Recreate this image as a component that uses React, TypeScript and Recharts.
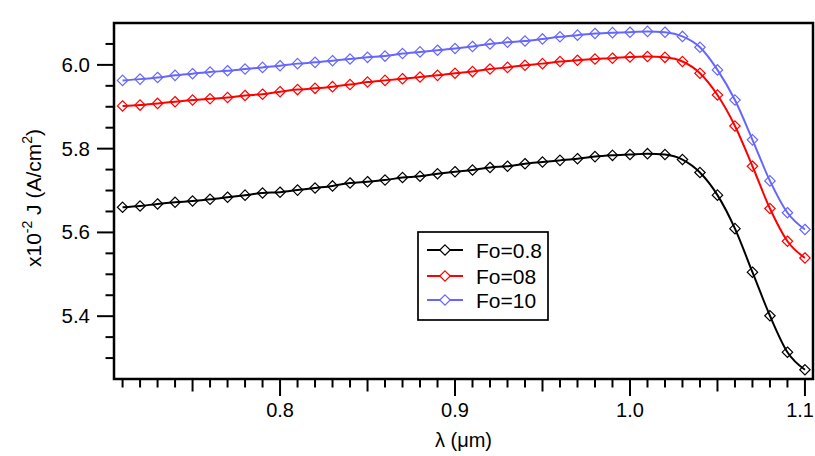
import React from 'react';
import { LineChart, Line, XAxis, YAxis, ReferenceArea, Legend, Label } from 'recharts';

// wavelength (µm)
const lambda = [
  0.71, 0.72, 0.73, 0.74, 0.75, 0.76, 0.77, 0.78, 0.79, 0.8,
  0.81, 0.82, 0.83, 0.84, 0.85, 0.86, 0.87, 0.88, 0.89, 0.9,
  0.91, 0.92, 0.93, 0.94, 0.95, 0.96, 0.97, 0.98, 0.99, 1.0,
  1.01, 1.02, 1.03, 1.04, 1.05, 1.06, 1.07, 1.08, 1.09, 1.1,
];

// J x10^-2 (A/cm^2)
const foA = [
  5.66, 5.663, 5.668, 5.672, 5.675, 5.679, 5.684, 5.689, 5.694, 5.696,
  5.701, 5.706, 5.711, 5.718, 5.721, 5.725, 5.731, 5.734, 5.74, 5.745,
  5.749, 5.755, 5.758, 5.764, 5.768, 5.772, 5.776, 5.781, 5.784, 5.786,
  5.788, 5.786, 5.774, 5.743, 5.689, 5.609, 5.505, 5.401, 5.314, 5.272,
];
const foB = [
  5.902, 5.904, 5.908, 5.912, 5.916, 5.919, 5.922, 5.927, 5.93, 5.936,
  5.941, 5.944, 5.948, 5.953, 5.959, 5.963, 5.967, 5.971, 5.975, 5.98,
  5.984, 5.99, 5.994, 5.999, 6.003, 6.008, 6.011, 6.014, 6.016, 6.019,
  6.02, 6.018, 6.008, 5.98, 5.928, 5.854, 5.758, 5.657, 5.579, 5.539,
];
const foC = [
  5.963, 5.966, 5.97, 5.975, 5.979, 5.983, 5.986, 5.99, 5.994, 5.998,
  6.003, 6.006, 6.01, 6.014, 6.018, 6.021, 6.027, 6.031, 6.035, 6.039,
  6.044, 6.05, 6.054, 6.057, 6.062, 6.067, 6.071, 6.075, 6.077, 6.078,
  6.08, 6.078, 6.068, 6.042, 5.988, 5.916, 5.821, 5.723, 5.647, 5.607,
];

const seriesNames = ['Fo=0.8', 'Fo=08', 'Fo=10'];
const seriesColors = ['#000000', '#ff0000', '#6666ff'];

const xTicks = lambda;
const xMajorTicks = [0.8, 0.9, 1.0, 1.1];
const xMediumTicks = [0.75, 0.85, 0.95, 1.05];
const yTicks = [5.3, 5.35, 5.4, 5.45, 5.5, 5.55, 5.6, 5.65, 5.7, 5.75, 5.8, 5.85, 5.9, 5.95, 6.0, 6.05];
const yMajorTicks = [5.4, 5.6, 5.8, 6.0];

const xDomain = [0.7051, 1.1046];
const yDomain = [5.25, 6.1];

const data = lambda.map((x, i) => ({ x, a: foA[i], b: foB[i], c: foC[i] }));

const FONT = '"Liberation Sans", Arial, Helvetica, sans-serif';

const isIn = (v: number, arr: number[]) => arr.some((t) => Math.abs(t - v) < 1e-6);

const BottomTick = (props: any) => {
  const { x, y, payload } = props;
  const v = payload.value;
  const major = isIn(v, xMajorTicks);
  const med = isIn(v, xMediumTicks);
  const len = major ? 17 : med ? 12.5 : 8.5;
  const last = Math.abs(v - xMajorTicks[xMajorTicks.length - 1]) < 1e-6;
  return (
    <g>
      <line x1={x} x2={x} y1={y} y2={y + len} stroke="#000" strokeWidth={2} />
      {major && (
        <text
          x={last ? Math.min(x + 13, 814) : x}
          y={y + 38}
          textAnchor={last ? 'end' : 'middle'}
          fontSize={20}
          fontFamily={FONT}
          fill="#000"
        >
          {v.toFixed(1)}
        </text>
      )}
    </g>
  );
};

const TopTick = (props: any) => {
  const { x, y, payload } = props;
  const v = payload.value;
  const major = isIn(v, xMajorTicks);
  const med = isIn(v, xMediumTicks);
  const len = major ? 15 : med ? 12 : 10;
  return <line x1={x} x2={x} y1={y} y2={y - len} stroke="#000" strokeWidth={2} />;
};

const LeftTick = (props: any) => {
  const { x, y, payload } = props;
  const v = payload.value;
  const major = isIn(v, yMajorTicks);
  const len = major ? 17 : 8.5;
  return (
    <g>
      <line x1={x} x2={x - len} y1={y} y2={y} stroke="#000" strokeWidth={2} />
      {major && (
        <text x={x - 24} y={y + 7} textAnchor="end" fontSize={20.5} fontFamily={FONT} fill="#000">
          {v.toFixed(1)}
        </text>
      )}
    </g>
  );
};

const makeDot = (color: string) => (props: any) => {
  const { cx, cy, index } = props;
  const r = 5.2;
  return (
    <path
      key={`d-${color}-${index}`}
      d={`M${cx},${cy - r} L${cx + r},${cy} L${cx},${cy + r} L${cx - r},${cy} Z`}
      fill="none"
      stroke={color}
      strokeWidth={1.2}
    />
  );
};

const renderLegend = (props: any) => {
  const payload = props.payload || [];
  const rows = [19, 45, 69];
  return (
    <svg width={132} height={90} style={{ display: 'block' }}>
      <rect x={1} y={1} width={130} height={88} fill="#fff" stroke="#000" strokeWidth={1.7} />
      {payload.map((p: any, i: number) => {
        const cy = rows[i];
        const c = p.color;
        const r = 5.2;
        return (
          <g key={i}>
            <line x1={10} x2={46} y1={cy} y2={cy} stroke={c} strokeWidth={2} />
            <path
              d={`M28,${cy - r} L${28 + r},${cy} L28,${cy + r} L${28 - r},${cy} Z`}
              fill="#fff"
              stroke={c}
              strokeWidth={1.2}
            />
            <text x={59} y={cy + 7.5} fontSize={21} fontFamily={FONT} fill="#000">
              {p.value}
            </text>
          </g>
        );
      })}
    </svg>
  );
};

const YTitle = (props: any) => {
  const vb = props.viewBox || { y: 23, height: 356 };
  const cy = vb.y + vb.height / 2 - 3;
  const cx = 41;
  return (
    <text
      x={cx}
      y={cy}
      transform={`rotate(-90, ${cx}, ${cy})`}
      textAnchor="middle"
      fontSize={21}
      fontFamily={FONT}
      fill="#000"
    >
      x10
      <tspan dy={-9} fontSize={14}>-2</tspan>
      <tspan dy={9}> J (A/cm</tspan>
      <tspan dy={-9} fontSize={14}>2</tspan>
      <tspan dy={9}>)</tspan>
    </text>
  );
};

export default function App() {
  return (
    <div style={{ position: 'absolute', left: 0, top: 0, width: 815, height: 456, background: '#fff' }}>
      <LineChart width={815} height={456} data={data} margin={{ top: 23, right: 2, bottom: 0, left: 0 }}>
        <XAxis
          dataKey="x"
          type="number"
          domain={xDomain}
          allowDataOverflow
          ticks={xTicks}
          interval={0}
          tickSize={0}
          tickMargin={0}
          axisLine={false}
          tickLine={false}
          tick={BottomTick}
          height={77}
        >
          <Label value="λ (μm)" position="insideBottom" offset={9} fontSize={20} fontFamily={FONT} fill="#000" />
        </XAxis>
        <XAxis
          xAxisId="top"
          orientation="top"
          dataKey="x"
          type="number"
          domain={xDomain}
          allowDataOverflow
          ticks={xTicks}
          interval={0}
          tickSize={0}
          tickMargin={0}
          axisLine={false}
          tickLine={false}
          tick={TopTick}
          height={0}
        />
        <YAxis
          type="number"
          domain={yDomain}
          allowDataOverflow
          ticks={yTicks}
          interval={0}
          tickSize={0}
          tickMargin={0}
          axisLine={false}
          tickLine={false}
          tick={LeftTick}
          width={114}
        >
          <Label content={YTitle} />
        </YAxis>
        <Legend
          layout="vertical"
          align="center"
          verticalAlign="middle"
          wrapperStyle={{ position: 'absolute', left: 417, top: 231, width: 132, height: 90 }}
          content={renderLegend}
        />
        <Line
          dataKey="a"
          name={seriesNames[0]}
          stroke={seriesColors[0]}
          strokeWidth={2}
          type="monotone"
          dot={makeDot(seriesColors[0])}
          isAnimationActive={false}
        />
        <Line
          dataKey="b"
          name={seriesNames[1]}
          stroke={seriesColors[1]}
          strokeWidth={2}
          type="monotone"
          dot={makeDot(seriesColors[1])}
          isAnimationActive={false}
        />
        <Line
          dataKey="c"
          name={seriesNames[2]}
          stroke={seriesColors[2]}
          strokeWidth={2}
          type="monotone"
          dot={makeDot(seriesColors[2])}
          isAnimationActive={false}
        />
        <ReferenceArea
          x1={xDomain[0]}
          x2={xDomain[1]}
          y1={yDomain[0]}
          y2={yDomain[1]}
          fill="none"
          stroke="#000"
          strokeWidth={2.5}
          ifOverflow="visible"
        />
      </LineChart>
    </div>
  );
}
